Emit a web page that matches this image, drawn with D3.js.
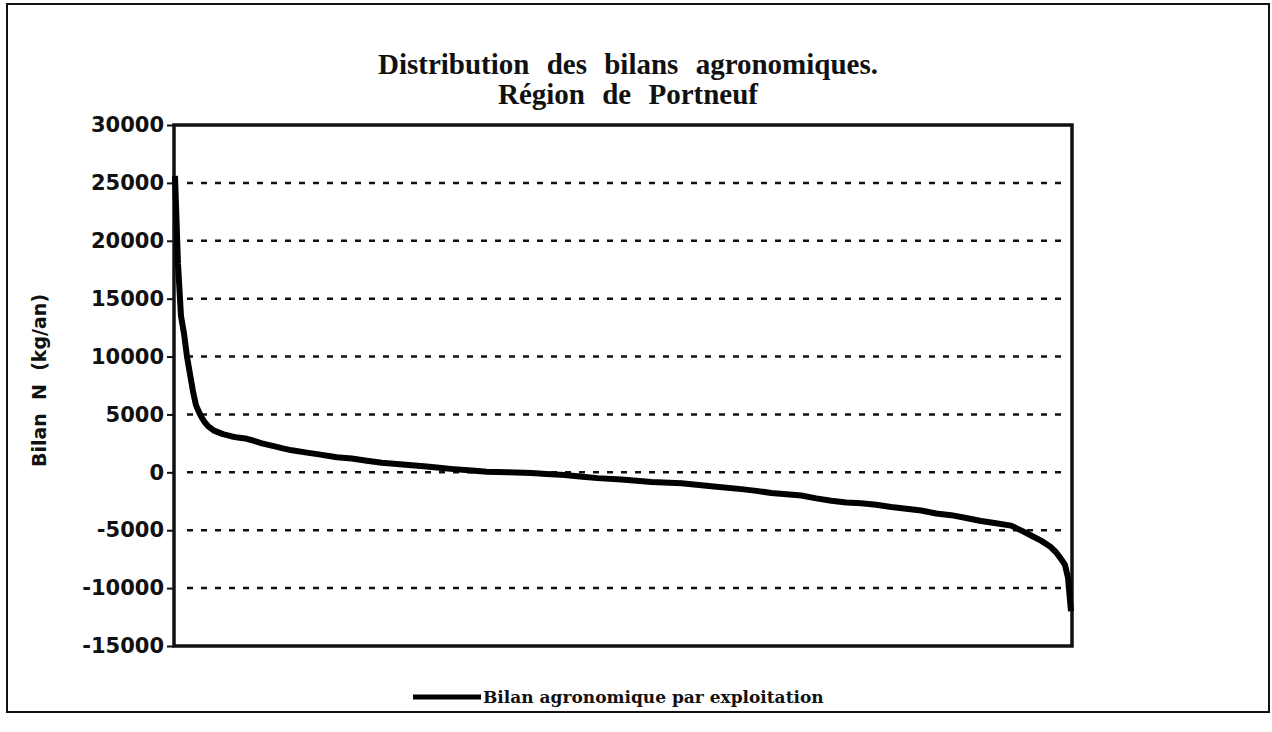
<!DOCTYPE html>
<html>
<head>
<meta charset="utf-8">
<script src="https://cdn.jsdelivr.net/npm/d3@7"></script>
<style>
  html, body { margin:0; padding:0; background:#fff; }
  svg { display:block; }
</style>
</head>
<body>
<svg id="svg" width="1272" height="732"></svg>
<script>
// chart text
const titleLines = ['Distribution des bilans agronomiques.', 'Région de Portneuf'];
const yLabel = 'Bilan  N  (kg/an)';
const legendLabel = 'Bilan agronomique par exploitation';
const yTicks = [30000, 25000, 20000, 15000, 10000, 5000, 0, -5000, -10000, -15000];

// farm rank (sorted) and nitrogen balance
const rank  = [1, 2, 3, 4, 5, 6, 7, 8, 9, 10, 11, 12, 14, 17, 20, 22, 25, 27, 30, 35,
               37, 40, 45, 49, 55, 60, 65, 70, 75, 80, 85, 90, 93, 100, 105, 112, 120, 125, 131, 137,
               142, 150, 160, 170, 180, 190, 195, 200, 205, 210, 215, 220, 225, 230, 235, 240, 245, 250, 255, 260,
               265, 270, 275, 280, 284, 287, 290, 293, 295, 297, 298, 299, 300];
const bilan = [25600, 18000, 13500, 12000, 10000, 8500, 7000, 5800, 5200, 4700, 4300, 4000, 3600, 3300, 3100, 3000, 2900, 2750, 2500, 2200,
               2070, 1900, 1700, 1550, 1300, 1200, 1000, 820, 720, 620, 500, 380, 300, 150, 60, 0, -60, -150, -240, -380,
               -500, -620, -830, -950, -1200, -1450, -1600, -1780, -1900, -2000, -2250, -2450, -2600, -2680, -2800, -3000, -3150, -3300, -3550, -3700,
               -3950, -4200, -4400, -4600, -5100, -5500, -5900, -6400, -6900, -7600, -8000, -9100, -12000];

const svg = d3.select('#svg');
const W = 1272, H = 732;
const m = { top:125, right:200, bottom:86, left:174 };
const x0 = m.left, x1 = W - m.right, y0 = m.top, y1 = H - m.bottom;

const x = d3.scaleLinear().domain([1, 300]).range([x0 + 1, x1 - 1]);
const y = d3.scaleLinear().domain([-15000, 30000]).range([y1, y0]);

// outer frame
svg.append('rect').attr('x', 7).attr('y', 4).attr('width', 1262).attr('height', 708)
  .attr('fill', 'none').attr('stroke', '#111').attr('stroke-width', 2);

// title, one text per line
svg.append('g').selectAll('text').data(titleLines).join('text')
  .attr('x', 628).attr('y', (d, i) => 74 + i * 30)
  .attr('text-anchor', 'middle')
  .attr('font-family', '"Liberation Serif", serif').attr('font-weight', 'bold')
  .attr('font-size', 29).attr('word-spacing', 10).attr('fill', '#111')
  .text(d => d);

// dashed gridlines
svg.append('g').selectAll('line').data(yTicks.filter(v => v > -15000 && v < 30000)).join('line')
  .attr('x1', x0 + 13).attr('x2', x1 - 6)
  .attr('y1', d => y(d)).attr('y2', d => y(d))
  .attr('stroke', '#111').attr('stroke-width', 2.5).attr('stroke-dasharray', '6,8');

// y axis
const ax = svg.append('g').attr('transform', `translate(${x0},0)`)
  .call(d3.axisLeft(y).tickValues(yTicks).tickSize(7).tickPadding(3).tickFormat(d => String(d)));
ax.select('.domain').remove();
ax.selectAll('.tick line').attr('stroke', '#111').attr('stroke-width', 2);
ax.selectAll('.tick text').attr('font-family', '"DejaVu Sans", sans-serif').attr('font-weight', 'bold')
  .attr('font-size', 21).attr('fill', '#111');

// plot frame
svg.append('rect').attr('x', x0).attr('y', y0).attr('width', x1 - x0).attr('height', y1 - y0)
  .attr('fill', 'none').attr('stroke', '#111').attr('stroke-width', 3.5);

// y label
svg.append('text').attr('transform', `translate(46,${(y0 + y1) / 2 - 5}) rotate(-90)`)
  .attr('text-anchor', 'middle').attr('font-family', '"DejaVu Sans", sans-serif')
  .attr('font-weight', 'bold').attr('font-size', 19).attr('fill', '#111')
  .attr('xml:space', 'preserve').style('white-space', 'pre').text(yLabel);

// curve
const pts = rank.map((r, i) => [r, bilan[i]]);
svg.append('path').datum(pts)
  .attr('fill', 'none').attr('stroke', '#000').attr('stroke-width', 6)
  .attr('stroke-linejoin', 'round').attr('stroke-linecap', 'butt')
  .attr('d', d3.line().x(d => x(d[0])).y(d => y(d[1])));

// legend
const lg = svg.append('g').attr('transform', 'translate(413,697)');
lg.append('line').attr('x1', 0).attr('x2', 68).attr('stroke', '#000').attr('stroke-width', 5);
lg.append('text').attr('x', 70).attr('y', 6)
  .attr('font-family', '"DejaVu Serif", serif').attr('font-weight', 'bold')
  .attr('font-size', 17).attr('fill', '#111').text(legendLabel);
</script>
</body>
</html>
